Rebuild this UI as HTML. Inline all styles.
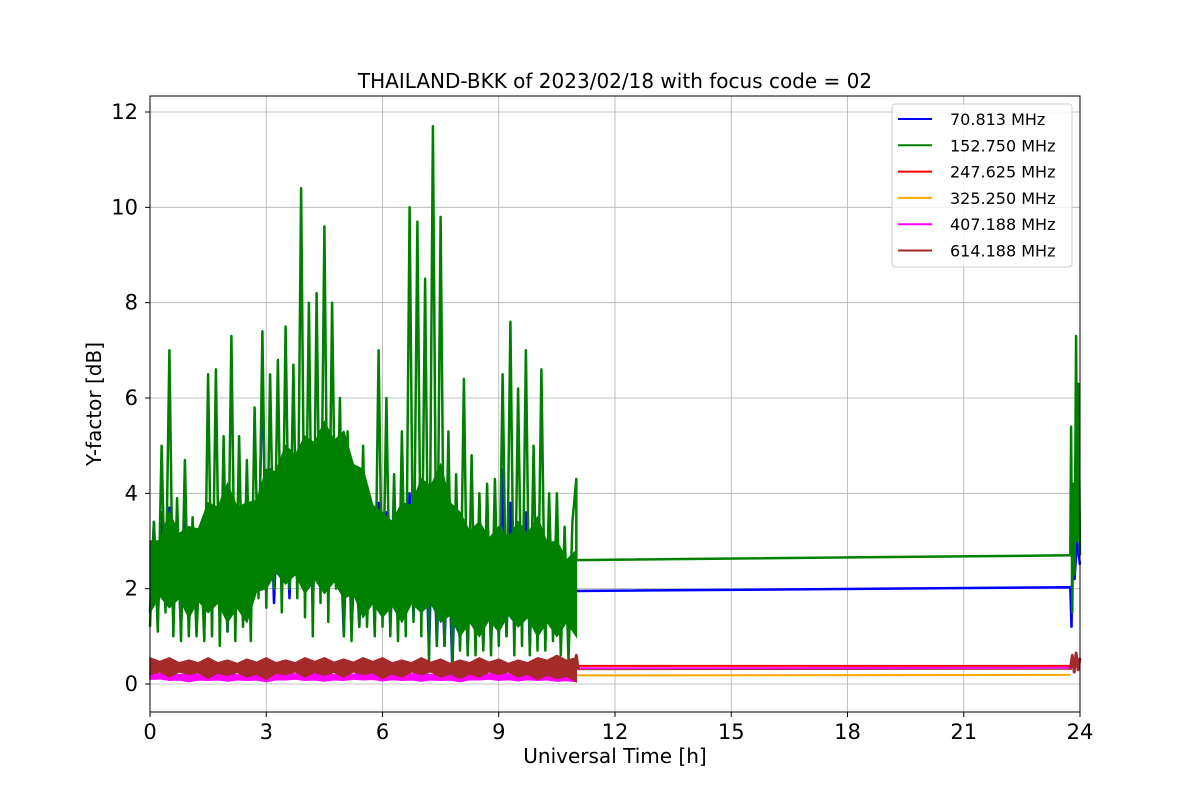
<!DOCTYPE html>
<html><head><meta charset="utf-8"><style>
body{margin:0;background:#fff;font-family:"Liberation Sans","DejaVu Sans",sans-serif}
</style></head><body>
<svg id="c" width="1200" height="800" xmlns="http://www.w3.org/2000/svg" style="font-family:'DejaVu Sans','Liberation Sans',sans-serif">
<rect width="1200" height="800" fill="#fff"/>
<g id="grid"></g>
<g id="series"></g>
<rect x="150" y="96" width="930" height="616" fill="none" stroke="#000" stroke-width="1"/>
<g id="axes"></g>
<text x="615" y="88" font-size="20" text-anchor="middle">THAILAND-BKK of 2023/02/18 with focus code = 02</text>
<text x="615" y="763" font-size="20" text-anchor="middle">Universal Time [h]</text>
<text transform="translate(101,404) rotate(-90)" font-size="20" text-anchor="middle">Y-factor [dB]</text>
<g id="legend"></g>
</svg>
<script>
const xTicks=[0,3,6,9,12,15,18,21,24];
const yTicks=[0,2,4,6,8,10,12];
const seriesNames=[" 70.813 MHz","152.750 MHz","247.625 MHz","325.250 MHz","407.188 MHz","614.188 MHz"];
const seriesColors=["#0000ff","#008000","#ff0000","#ffa500","#ff00ff","#a52a2a"];
// green, 0.1h steps from 0 to 11
const greenVals=[1.2,3.4,1.1,5.0,1.5,7.0,1.0,3.9,0.9,4.7,1.0,3.5,1.0,3.0,0.9,6.5,1.0,6.6,0.8,5.2,1.1,7.3,0.9,5.2,1.2,4.7,0.9,5.8,1.8,7.4,1.6,6.5,2.0,6.8,1.5,7.5,2.0,6.7,1.8,10.4,1.4,8.0,1.0,8.2,1.7,9.6,1.3,8.0,2.0,6.0,1.0,5.3,0.9,4.0,1.2,5.0,1.2,3.5,1.0,7.0,1.2,6.0,1.0,4.4,0.9,5.3,1.0,10.0,1.3,9.7,1.0,8.5,0.5,11.7,0.8,9.8,0.8,5.3,0.4,4.4,0.7,6.4,0.6,4.8,0.6,4.0,0.7,4.2,0.6,4.3,0.8,6.5,1.0,7.6,0.6,6.2,0.8,7.0,0.6,5.0,0.7,6.6,0.7,4.0,0.9,4.0,0.6,3.3,0.5,3.4,4.3];
const greenTailT=[11.0,23.75,23.77,23.8,23.83,23.86,23.9,23.93,23.96,24.0];
const greenTailV=[2.6,2.7,5.4,1.5,4.2,2.3,7.3,3.0,6.3,2.7];
// dense green core envelope, 0.5h steps 0..11
const greenCoreUp=[3.0,3.6,3.3,3.8,4.2,3.8,4.5,5.0,5.2,5.5,5.3,4.5,3.6,3.8,4.3,4.6,3.6,3.4,3.3,3.4,3.5,3.0,2.8];
const greenCoreLo=[1.5,1.6,1.4,1.5,1.3,1.3,2.0,2.1,1.9,1.9,1.8,1.4,1.4,1.3,1.5,1.3,1.0,1.0,1.1,1.2,1.0,1.0,1.0];
const blueVals=[1.5,3.4,1.3,3.6,1.6,3.7,1.4,3.0,1.2,3.4,1.2,2.8,1.5,3.0,1.2,3.3,1.8,3.2,1.5,3.3,1.1,3.4,1.6,3.0,1.3,3.2,1.5,3.5,2.2,6.7,2.0,4.5,1.7,3.8,1.9,4.0,1.8,4.5,2.4,4.5,2.0,4.0,1.6,4.3,2.4,4.8,2.2,4.0,2.2,3.5,1.0,3.8,1.1,3.0,1.2,3.6,1.6,3.4,1.3,3.8,1.8,3.6,1.2,3.2,1.3,3.8,1.6,4.0,1.4,3.8,1.6,3.7,0.6,4.0,0.8,3.5,0.8,3.2,0.3,3.0,0.8,3.1,0.7,3.2,0.9,3.0,0.8,3.2,0.8,3.3,1.0,4.5,1.0,3.8,1.0,3.0,1.2,3.6,0.8,3.0,1.2,2.9,1.0,2.8,1.2,2.5,1.0,2.7,1.4,2.6,1.95];
const blueTailT=[11.0,23.75,23.78,23.82,23.86,23.92,24.0];
const blueTailV=[1.95,2.03,1.2,3.5,2.2,3.0,2.5];
const brownUp=[0.55,0.55,0.5,0.55,0.5,0.52,0.55,0.5,0.55,0.55,0.52,0.55,0.55,0.5,0.55,0.52,0.5,0.55,0.52,0.5,0.55,0.6,0.55];
const brownLo=[0.2,0.15,0.2,0.12,0.18,0.15,0.1,0.2,0.15,0.18,0.15,0.2,0.12,0.15,0.2,0.15,0.12,0.15,0.2,0.15,0.1,0.12,0.05];
const magentaUp=[0.25,0.22,0.2,0.24,0.22,0.2,0.24,0.22,0.24,0.22,0.2,0.24,0.22,0.24,0.22,0.2,0.24,0.22,0.24,0.22,0.2,0.24,0.28];
const magentaLo=[0.1,0.08,0.05,0.08,0.06,0.08,0.05,0.09,0.08,0.06,0.08,0.09,0.07,0.08,0.06,0.08,0.05,0.09,0.08,0.07,0.08,0.06,0.05];
const orangeUp=[0.2,0.18,0.2,0.18,0.2,0.18,0.2,0.2,0.18,0.2,0.22,0.18,0.2,0.22,0.18,0.2,0.18,0.22,0.2,0.18,0.2,0.18,0.18];
const orangeLo=[0.12,0.1,0.1,0.12,0.1,0.12,0.1,0.12,0.1,0.12,0.1,0.12,0.1,0.12,0.1,0.12,0.1,0.12,0.1,0.12,0.1,0.1,0.1];
const redLevel=[0.38,0.38];
const magentaLevel=[0.33,0.34];
const orangeLevel=[0.18,0.19];
const brownLevel=[0.3,0.31];
const tailT=[11.05,23.75];

const NS="http://www.w3.org/2000/svg";
const X=t=>150+t*930/24;
const Y=v=>684-v*(684-112)/12;
function mk(tag,attrs,parent){const e=document.createElementNS(NS,tag);for(const k in attrs)e.setAttribute(k,attrs[k]);parent.appendChild(e);return e;}
const grid=document.getElementById('grid'),axes=document.getElementById('axes'),ser=document.getElementById('series'),leg=document.getElementById('legend');
xTicks.forEach(t=>{
  const l=mk('line',{x1:X(t),x2:X(t),y1:96,y2:712,stroke:'#b0b0b0','stroke-width':0.8},grid);
  
  
  mk('line',{x1:X(t),x2:X(t),y1:712,y2:717,stroke:'#000'},axes);
  const tx=mk('text',{x:X(t),y:739,'font-size':21,'text-anchor':'middle'},axes);tx.textContent=t;
  
  
});
yTicks.forEach(v=>{
  const l=mk('line',{x1:150,x2:1080,y1:Y(v),y2:Y(v),stroke:'#b0b0b0','stroke-width':0.8},grid);
  
  
  mk('line',{x1:145,x2:150,y1:Y(v),y2:Y(v),stroke:'#000'},axes);
  const tx=mk('text',{x:138,y:Y(v)+7,'font-size':21,'text-anchor':'end'},axes);tx.textContent=v;
  
  
});
function line(pts,color,name,w){
  const p=mk('polyline',{points:pts.map(q=>X(q[0]).toFixed(1)+','+Y(q[1]).toFixed(1)).join(' '),fill:'none',stroke:color,'stroke-width':w||2,'stroke-linejoin':'round'},ser);
  
  
}
function band(up,lo,color,name,bump){
  const n=up.length,pts=[];
  for(let i=0;i<n;i++){pts.push([i*11/(n-1),up[i]]);if(i<n-1)pts.push([(i+0.5)*11/(n-1),(up[i]+up[i+1])/2-bump]);}
  for(let i=n-1;i>=0;i--){pts.push([i*11/(n-1),lo[i]]);if(i>0)pts.push([(i-0.5)*11/(n-1),(lo[i]+lo[i-1])/2+bump]);}
  const p=mk('polygon',{points:pts.map(q=>X(q[0]).toFixed(1)+','+Y(q[1]).toFixed(1)).join(' '),fill:color,stroke:color,'stroke-width':1.5},ser);
  
  
}
function seq(vals){return vals.map((v,i)=>[i*11/(vals.length-1),v]);}
line(seq(blueVals).concat(blueTailT.map((t,i)=>[t,blueTailV[i]])),seriesColors[0],'series-70mhz',2.5);
band(greenCoreUp,greenCoreLo,seriesColors[1],'series-152mhz-core',0.3);
line(seq(greenVals).concat(greenTailT.map((t,i)=>[t,greenTailV[i]])),seriesColors[1],'series-152mhz',2.5);
band(orangeUp,orangeLo,seriesColors[3],'series-325mhz-band',0.02);
band(magentaUp,magentaLo,seriesColors[4],'series-407mhz-band',0.02);
band(brownUp,brownLo,seriesColors[5],'series-614mhz-band',0.08);
line(tailT.map((t,i)=>[t,redLevel[i]]),seriesColors[2],'series-247mhz',2);
line(tailT.map((t,i)=>[t,magentaLevel[i]]),seriesColors[4],'series-407mhz',2);
line(tailT.map((t,i)=>[t,orangeLevel[i]]),seriesColors[3],'series-325mhz',2);
line(tailT.map((t,i)=>[t,brownLevel[i]]),seriesColors[5],'series-614mhz',1);
line([[23.75,0.3],[23.8,0.6],[23.85,0.25],[23.9,0.65],[23.95,0.3],[24,0.55]],seriesColors[5],'series-614mhz-end',3);
line([[10.95,0.3],[11.0,0.6],[11.05,0.3]],seriesColors[5],'series-614mhz-edge',3);
const box=mk('rect',{x:892,y:104,width:180,height:163,rx:3,fill:'#fff','fill-opacity':0.8,stroke:'#ccc'},leg);


seriesNames.forEach((n,i)=>{
  const y=119+i*26.3;
  const l=mk('line',{x1:898,x2:932,y1:y,y2:y,stroke:seriesColors[i],'stroke-width':2},leg);
  
  
  const t=mk('text',{x:950,y:y+6,'font-size':16,'xml:space':'preserve'},leg);t.textContent=n;
  
  
});
</script>
</body></html>
